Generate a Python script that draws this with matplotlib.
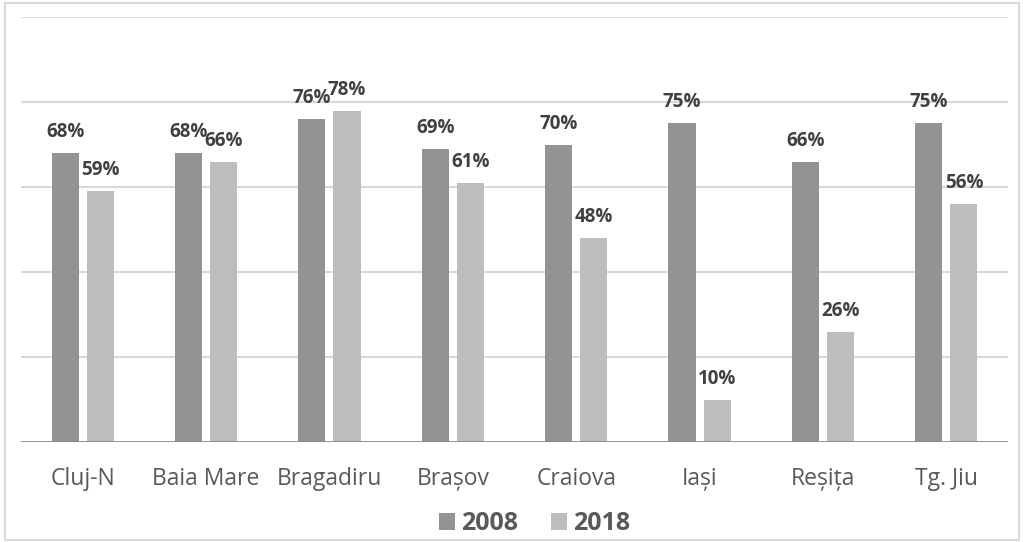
import matplotlib
matplotlib.use('Agg')
from matplotlib import pyplot as plt
from matplotlib.patches import Rectangle
import numpy as np

plt.rcParams['font.family'] = ['Open Sans', 'DejaVu Sans']

cities = ['Cluj-N', 'Baia Mare', 'Bragadiru', 'Brașov', 'Craiova', 'Iași', 'Reșița', 'Tg. Jiu']
years = ['2008', '2018']
vals_2008 = [68, 68, 76, 69, 70, 75, 66, 75]
vals_2018 = [59, 66, 78, 61, 48, 10, 26, 56]

col_2008 = '#939393'
col_2018 = '#bdbdbd'

fig = plt.figure(figsize=(10.23, 5.42), dpi=100)
# light border round the whole chart
fig.patches.append(Rectangle((5 / 1023, 2 / 542), 1014 / 1023, 537 / 542,
                             transform=fig.transFigure, fill=False,
                             edgecolor='#d9d9d9', linewidth=1.5))

ax = fig.add_axes([21 / 1023, 100 / 542, 987 / 1023, 425 / 542])

x = np.arange(len(cities))
w = 0.22
gap = 0.065
b1 = ax.bar(x - (w + gap) / 2, vals_2008, w, color=col_2008, label=years[0], zorder=3)
b2 = ax.bar(x + (w + gap) / 2, vals_2018, w, color=col_2018, label=years[1], zorder=3)

for bars in (b1, b2):
    for r in bars:
        ax.annotate('%d%%' % round(r.get_height()),
                    (r.get_x() + r.get_width() / 2, r.get_height()),
                    xytext=(0, 11.5), textcoords='offset points',
                    ha='center', va='baseline', fontsize=13.5,
                    fontweight='bold', color='#404040')

ax.set_xlim(-0.5, len(cities) - 0.5)
ax.set_ylim(0, 100)
ax.set_yticks([20, 40, 60, 80, 100])
ax.yaxis.grid(True, color='#d9d9d9', linewidth=1.5, zorder=0)
ax.set_yticklabels([])
ax.tick_params(axis='y', length=0)
ax.axhline(0, color='#8c8c8c', linewidth=2, zorder=4)

ax.set_xticks(x)
ax.set_xticklabels(cities, fontsize=16.5, color='#595959')
ax.tick_params(axis='x', length=0, pad=18)

for s in ax.spines.values():
    s.set_visible(False)

leg = fig.legend(loc='center', bbox_to_anchor=(0.5225, 0.034), ncol=2,
                 frameon=False, handlelength=0.65, handleheight=0.65,
                 handletextpad=0.25, columnspacing=1.3,
                 prop={'size': 18, 'weight': 'bold'})
for t in leg.get_texts():
    t.set_color('#595959')

fig.savefig('out.png', dpi=100)
